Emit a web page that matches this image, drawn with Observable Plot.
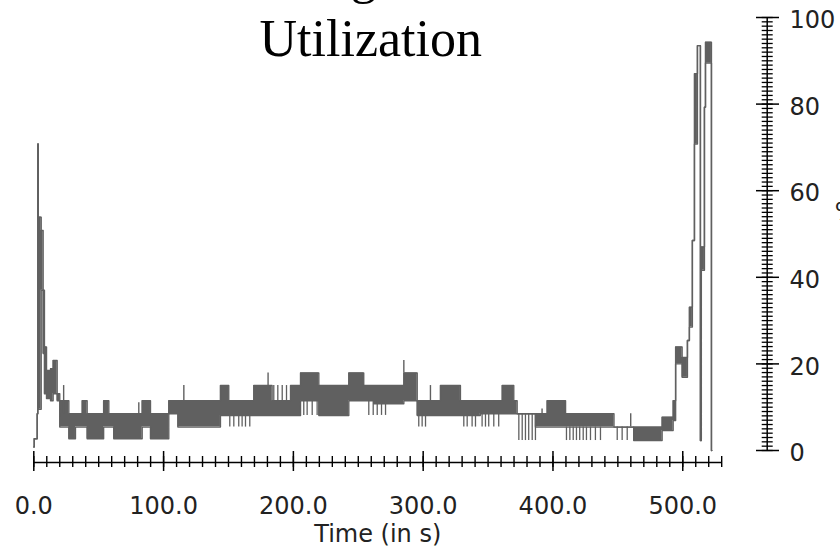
<!DOCTYPE html>
<html><head><meta charset="utf-8">
<script src="https://cdn.jsdelivr.net/npm/d3@7"></script>
<script src="https://cdn.jsdelivr.net/npm/@observablehq/plot@0.6"></script>
<style>
body{margin:0;background:#fff;overflow:hidden}
#chart{position:relative;width:840px;height:550px}
</style>
</head><body><div id="chart"></div>
<script>
const titleLines = ["Average CPU", "Utilization"];
const xLabel = "Time (in s)";
const yLabel = "%";
const xTicks = [0, 100, 200, 300, 400, 500];
const xMinorTicks = d3.range(0, 531, 10);
const yTicks = [0, 20, 40, 60, 80, 100];
const yMinorTicks = d3.range(0, 101, 1);

// utilization band: start time, low and high of the oscillation (%)
const bandT  = [0, 0.3, 2.6, 3.1, 3.4, 5.7, 7.2, 8.2, 9.8, 12.9, 14.9, 18.0, 20.0, 27.0, 32.1, 37.3, 41.1, 53.8, 57.8, 61.6, 83.5, 89.9, 104.0, 111.0, 143.8, 150.2, 169.5, 183.6, 197.8, 205.5, 219.6, 242.7, 254.2, 261.9, 285.1, 295.4, 303.1, 313.3, 328.7, 344.0, 360.9, 369.8, 372.4, 386.5, 395.5, 409.7, 447.0, 462.2, 484.1, 492.6, 494.5, 499.5, 503.6, 505.1, 507.4, 509.0, 511.3, 513.6, 514.3, 516.7, 517.5, 522.1, 522.4];
const bandLo = [0.8, 2.7, 8.5, 70.8, 9.5, 37.0, 22.4, 13.1, 12.0, 11.5, 13.1, 11.5, 5.4, 2.7, 5.4, 5.4, 2.7, 5.4, 5.4, 2.7, 5.4, 2.7, 8.5, 5.4, 8.1, 8.1, 8.1, 8.1, 8.1, 11.5, 8.1, 11.5, 11.5, 10.8, 11.5, 8.1, 8.1, 8.1, 8.1, 8.5, 8.5, 8.5, 8.5, 5.4, 5.4, 5.4, 5.4, 2.3, 4.6, 6.9, 20.0, 16.9, 25.4, 28.5, 48.5, 70.8, 93.5, 2.3, 41.6, 79.3, 89.5, 0, 0];
const bandHi = [0.8, 2.7, 8.5, 70.8, 53.9, 50.8, 37.0, 23.9, 18.5, 18.9, 20.8, 13.1, 11.5, 8.5, 8.5, 11.5, 8.5, 11.5, 8.5, 8.5, 11.5, 8.5, 11.5, 11.5, 15.0, 11.5, 15.0, 11.5, 15.0, 17.9, 15.0, 17.9, 15.0, 15.0, 17.9, 11.5, 11.5, 15.0, 11.5, 11.5, 15.0, 11.5, 8.5, 8.5, 11.5, 8.5, 5.4, 5.4, 7.7, 11.5, 23.9, 21.5, 25.4, 33.1, 48.5, 87.0, 93.5, 2.3, 47.0, 79.3, 94.3, 0, 0];

// single spikes
const spikeT  = [23.0, 80.9, 115.6, 180.5, 285.1, 305.6, 391.6, 459.9];
const spikeLo = [8.5, 8.5, 11.5, 15.0, 17.9, 11.5, 8.5, 5.4];
const spikeHi = [15.0, 11.0, 15.0, 17.9, 20.8, 15.0, 9.6, 8.5];

// thin stripes outside the band
const stripeT  = [151.0, 154.1, 157.9, 160.5, 163.1, 166.4, 184.9, 188.0, 191.4, 194.7, 208.0, 210.6, 214.5, 218.3, 258.1, 261.5, 264.6, 267.9, 271.0, 296.6, 299.2, 301.8, 331.3, 333.9, 337.7, 340.3, 345.4, 348.0, 350.5, 354.4, 358.2, 373.7, 376.3, 378.8, 381.3, 384.0, 386.5, 410.4, 413.0, 415.6, 418.1, 420.6, 423.3, 425.8, 428.9, 432.7, 436.6, 449.5, 453.3, 457.2];
const stripeLo = [5.4, 5.4, 5.4, 5.4, 5.4, 5.4, 11.5, 11.5, 11.5, 11.5, 8.1, 8.1, 8.1, 8.1, 8.1, 8.1, 8.1, 8.1, 8.1, 5.4, 5.4, 5.4, 5.4, 5.4, 5.4, 5.4, 5.4, 5.4, 5.4, 5.4, 5.4, 2.3, 2.3, 2.3, 2.3, 2.3, 2.3, 2.3, 2.3, 2.3, 2.3, 2.3, 2.3, 2.3, 2.3, 2.3, 2.3, 2.3, 2.3, 2.3];
const stripeHi = [8.1, 8.1, 8.1, 8.1, 8.1, 8.1, 15.0, 15.0, 15.0, 15.0, 11.5, 11.5, 11.5, 11.5, 11.5, 11.5, 11.5, 11.5, 11.5, 8.1, 8.1, 8.1, 8.1, 8.1, 8.1, 8.1, 8.5, 8.5, 8.5, 8.5, 8.5, 8.5, 8.5, 8.5, 8.5, 8.5, 8.5, 5.4, 5.4, 5.4, 5.4, 5.4, 5.4, 5.4, 5.4, 5.4, 5.4, 5.4, 5.4, 5.4];

const band = bandT.map((t, i) => ({t, lo: bandLo[i], hi: bandHi[i]}));
const spikes = spikeT.map((t, i) => ({t, lo: spikeLo[i], hi: spikeHi[i]}));
const stripes = stripeT.map((t, i) => ({t, lo: stripeLo[i], hi: stripeHi[i]}));

const ink = "#606060";
const sans = "DejaVu Sans";
const serif = "Liberation Serif, Times New Roman, serif";

const chart = Plot.plot({
  width: 840,
  height: 550,
  marginLeft: 33.3,
  marginRight: 118.8,
  marginTop: 17,
  marginBottom: 100,
  x: {domain: [0, 530], axis: null},
  y: {domain: [0, 100], axis: null},
  style: {background: "#fff", fontFamily: sans, overflow: "hidden"},
  marks: [
    Plot.areaY(band, {x: "t", y1: "lo", y2: "hi", curve: "step-after", fill: ink}),
    Plot.lineY(band, {x: "t", y: "hi", curve: "step-after", stroke: ink, strokeWidth: 1.4}),
    Plot.lineY(band, {x: "t", y: "lo", curve: "step-after", stroke: ink, strokeWidth: 1.4}),
    Plot.ruleX(spikes, {x: "t", y1: "lo", y2: "hi", stroke: ink, strokeWidth: 1.4}),
    Plot.ruleX(stripes, {x: "t", y1: "lo", y2: "hi", stroke: ink, strokeWidth: 1.3}),

    // x axis (offset below plot)
    Plot.ruleY([0], {x1: 0, x2: 530, dy: 12, stroke: "#000", strokeWidth: 1.5}),
    Plot.axisX({ticks: xMinorTicks, anchor: "bottom", tickSize: 11, dy: 6, tickFormat: () => "", fill: "none", label: null, strokeWidth: 1.4}),
    Plot.axisX({ticks: xTicks, anchor: "bottom", tickSize: 20, dy: 1, tickFormat: () => "", fill: "none", label: null, strokeWidth: 1.5}),
    Plot.axisX({ticks: xTicks, anchor: "bottom", tickSize: 0, tickPadding: 46, tickFormat: d3.format(".1f"), fontSize: 24, fill: "#222", label: null}),
    Plot.text([xLabel], {frameAnchor: "bottom", dy: 84, lineAnchor: "middle", fontSize: 24, fill: "#222"}),

    // y axis (offset right of plot)
    Plot.ruleX([530], {y1: 0, y2: 100, dx: 45.5, stroke: "#000", strokeWidth: 1.5}),
    Plot.axisY({ticks: yMinorTicks, anchor: "right", tickSize: 11, dx: 39.5, tickFormat: () => "", fill: "none", label: null, strokeWidth: 1.3}),
    Plot.axisY({ticks: yTicks, anchor: "right", tickSize: 23, dx: 33.8, tickFormat: () => "", fill: "none", label: null, strokeWidth: 1.5}),
    Plot.axisY({ticks: yTicks, anchor: "right", tickSize: 0, tickPadding: 0, dx: 67.8, dy: 3, textAnchor: "start", tickFormat: d => String(d), fontSize: 24, fill: "#222", label: null}),
    Plot.text([yLabel], {frameAnchor: "right", dx: 113, dy: -21.5, textAnchor: "start", lineAnchor: "middle", fontSize: 24, fill: "#222"}),

    // title
    Plot.text([titleLines[0]], {frameAnchor: "top", dx: -7, dy: -41, lineAnchor: "middle", fontSize: 52, fontFamily: serif, fill: "#000"}),
    Plot.text([titleLines[1]], {frameAnchor: "top", dx: -7, dy: 21.4, lineAnchor: "middle", fontSize: 52, fontFamily: serif, fill: "#000"})
  ]
});
document.getElementById("chart").appendChild(chart);
</script>
</body></html>
